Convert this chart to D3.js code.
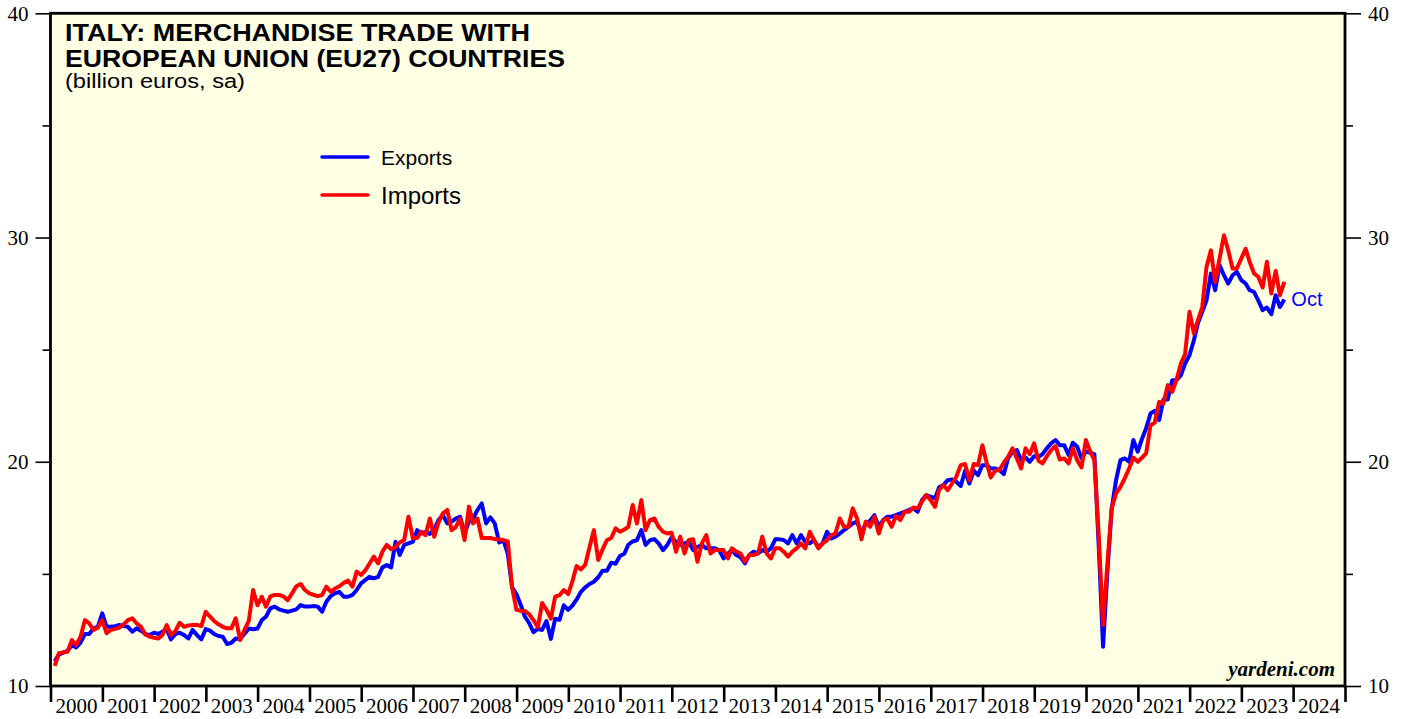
<!DOCTYPE html>
<html>
<head>
<meta charset="utf-8">
<script src="https://cdn.jsdelivr.net/npm/d3@7"></script>
<style>
  body { margin: 0; background: #ffffff; }
  svg { display: block; }
</style>
</head>
<body>
<svg width="1405" height="719"></svg>
<script>
const BLUE = "#0000FF";
const RED = "#FF0000";
const PAPER = "#FFFFE3";

// Monthly data, Jan 2000 .. Oct 2023 (billion euros, sa)
const startYear = 2000;
const exportsEU = [
  11.1, 11.4, 11.49, 11.57, 11.83, 11.72, 11.93, 12.32, 12.32, 12.57, 12.64, 13.24,
  12.64, 12.64, 12.67, 12.72, 12.67, 12.64, 12.42, 12.57, 12.47, 12.32, 12.27, 12.38,
  12.32, 12.42, 12.53, 12.08, 12.32, 12.38, 12.27, 12.12, 12.5, 12.27, 12.08, 12.54,
  12.47, 12.32, 12.23, 12.2, 11.87, 11.93, 12.12, 12.11, 12.32, 12.56, 12.53, 12.56,
  12.94, 13.09, 13.46, 13.54, 13.42, 13.36, 13.31, 13.36, 13.42, 13.61, 13.54, 13.54,
  13.57, 13.54, 13.31, 13.76, 14.01, 14.13, 14.2, 13.98, 13.98, 14.06, 14.28, 14.58,
  14.73, 14.87, 14.8, 14.87, 15.29, 15.39, 15.29, 16.43, 15.84, 16.29, 16.36, 16.43,
  16.95, 16.8, 16.88, 16.78, 16.98, 17.4, 17.62, 17.25, 17.33, 17.47, 17.55, 16.8,
  17.33, 17.47, 17.85, 18.14, 17.25, 17.52, 17.25, 16.4, 16.5, 15.9, 14.4, 14.1,
  13.6, 13.1, 12.8, 12.4, 12.55, 12.5, 12.9, 12.1, 13.0, 12.95, 13.6, 13.4,
  13.6, 13.85, 14.2, 14.4, 14.55, 14.65, 14.85, 15.14, 15.14, 15.5, 15.45, 15.8,
  15.9, 16.3, 16.45, 16.5, 16.95, 16.29, 16.5, 16.55, 16.36, 16.06, 16.29, 16.63,
  16.43, 16.29, 16.36, 16.43, 16.06, 16.2, 16.29, 16.14, 16.14, 16.14, 16.06, 15.69,
  15.91, 16.06, 15.84, 15.74, 15.47, 15.84, 15.99, 15.91, 16.06, 15.99, 16.14, 16.54,
  16.54, 16.51, 16.36, 16.73, 16.36, 16.73, 16.43, 16.36, 16.51, 16.2, 16.36, 16.88,
  16.58, 16.66, 16.8, 16.95, 17.1, 17.25, 17.33, 16.8, 17.25, 17.37, 17.62, 17.1,
  17.4, 17.55, 17.55, 17.62, 17.7, 17.77, 17.85, 17.92, 17.77, 18.29, 18.51, 18.44,
  18.37, 18.86, 18.96, 19.18, 19.21, 19.11, 18.92, 19.6, 19.03, 19.6, 19.4, 19.85,
  19.85, 19.7, 19.7, 19.63, 19.45, 20.15, 20.45, 20.52, 20.07, 20.19, 20.0, 20.25,
  20.22, 20.34, 20.6, 20.82, 20.97, 20.74, 20.74, 20.3, 20.85, 20.67, 20.15, 20.45,
  20.4, 20.34, 16.2, 11.75, 15.1, 17.9, 19.18, 20.07, 20.15, 20.0, 20.97, 20.45,
  21.04, 21.49, 22.15, 22.27, 21.86, 22.78, 22.78, 23.64, 23.64, 23.85, 24.38, 24.75,
  25.42, 26.17, 26.69, 27.2, 28.4, 27.65, 28.77, 28.32, 27.95, 28.32, 28.47, 28.1,
  27.95, 27.65, 27.58, 27.2, 26.76, 26.88, 26.58, 27.43, 26.9, 27.24
];
const importsEU = [
  10.9, 11.46, 11.5, 11.53, 12.05, 11.83, 12.2, 12.94, 12.79, 12.5, 12.6, 12.94,
  12.35, 12.5, 12.55, 12.6, 12.75, 12.94, 13.02, 12.79, 12.64, 12.3, 12.2, 12.15,
  12.12, 12.27, 12.72, 12.27, 12.45, 12.82, 12.64, 12.7, 12.72, 12.72, 12.67, 13.31,
  13.09, 12.9, 12.75, 12.64, 12.57, 12.57, 13.02, 12.05, 12.5, 12.9, 14.28, 13.6,
  13.98, 13.54, 14.0, 14.06, 14.06, 14.0, 13.83, 14.13, 14.45, 14.55, 14.28, 14.13,
  14.06, 14.01, 14.06, 14.43, 14.2, 14.35, 14.45, 14.6, 14.7, 14.43, 15.1, 14.95,
  15.17, 15.45, 15.77, 15.47, 16.0, 16.29, 16.1, 16.2, 16.4, 16.51, 17.55, 16.6,
  16.6, 16.88, 16.73, 17.47, 16.66, 17.3, 17.7, 17.85, 16.95, 17.1, 17.47, 16.51,
  18.0, 17.25, 17.47, 16.6, 16.6, 16.6, 16.55, 16.55, 16.5, 16.45, 14.4, 13.4,
  13.35, 13.35, 13.2, 12.94, 12.62, 13.7, 13.4, 13.0, 13.98, 14.05, 14.28, 14.1,
  14.7, 15.35, 15.2, 15.4, 16.2, 16.95, 15.62, 16.1, 16.5, 16.6, 17.03, 16.88,
  16.98, 17.1, 18.07, 17.25, 18.29, 16.95, 17.4, 17.47, 17.1, 16.88, 16.8, 16.83,
  15.99, 16.66, 15.91, 16.51, 16.54, 15.54, 16.36, 16.73, 15.91, 16.06, 16.06, 16.06,
  15.69, 16.14, 15.99, 15.91, 15.54, 15.84, 15.84, 15.91, 16.66, 15.91, 15.69, 16.14,
  16.14, 15.99, 15.77, 15.99, 16.14, 16.36, 16.14, 16.88, 16.5, 16.14, 16.36, 16.5,
  16.73, 16.8, 17.47, 17.1, 17.1, 17.92, 17.47, 16.54, 17.33, 17.1, 17.55, 16.8,
  17.4, 17.47, 17.1, 17.58, 17.4, 17.77, 17.77, 17.96, 17.92, 18.22, 18.51, 18.29,
  17.99, 18.74, 18.96, 18.73, 19.03, 19.33, 19.85, 19.9, 19.18, 19.9, 19.85, 20.74,
  19.93, 19.3, 19.6, 19.63, 19.96, 20.22, 20.6, 20.15, 19.7, 20.6, 20.34, 20.82,
  20.04, 19.93, 20.25, 20.52, 20.7, 20.1, 20.15, 19.93, 20.6, 20.07, 19.75, 20.97,
  20.45, 20.07, 16.66, 12.72, 15.47, 17.92, 18.59, 18.88, 19.26, 19.7, 20.19, 20.0,
  20.19, 20.37, 21.63, 21.75, 22.67, 22.6, 23.42, 23.12, 23.64, 24.38, 24.8, 26.69,
  25.72, 26.31, 26.9, 28.69, 29.43, 28.02, 29.06, 30.1, 29.43, 28.62, 28.62, 29.06,
  29.5, 28.92, 28.4, 28.25, 27.77, 28.92, 27.5, 28.51, 27.43, 28.02
];

const yMajor = [10, 20, 30, 40];
const yMinor = [15, 25, 35];
const yearLabels = d3.range(2000, 2025);
const seriesNames = ["Exports", "Imports"];
const lastLabel = "Oct";

// Plot frame
m = { top: 13.3, right: 60, bottom: 33, left: 50.5 };
w = 1345 - m.left;
h = 686 - m.top;

var svg = d3.select("svg");

var x = d3.scaleTime()
    .domain([new Date(2000, 0, 1), new Date(2025, 0, 1)])
    .range([m.left, m.left + w]);

var y = d3.scaleLinear()
    .domain([10, 40])
    .range([m.top + h, m.top]);

// month index -> end of that month
function monthDate(i) {
    return new Date(startYear, i + 1, 0);
}

/*=========================================================================
Background
=========================================================================*/
svg.append("rect")
    .attr("x", m.left)
    .attr("y", m.top)
    .attr("width", w)
    .attr("height", h)
    .attr("fill", PAPER);

svg.append("clipPath")
    .attr("id", "plotclip")
    .append("rect")
    .attr("x", m.left)
    .attr("y", m.top)
    .attr("width", w)
    .attr("height", h);

/*=========================================================================
Lines
=========================================================================*/
var line = d3.line()
    .x(function (d, i) { return x(monthDate(i)); })
    .y(function (d) { return y(d); });

var lines = svg.append("g").attr("clip-path", "url(#plotclip)");

lines.append("path")
    .datum(exportsEU)
    .attr("fill", "none")
    .attr("stroke", BLUE)
    .attr("stroke-width", 4)
    .attr("stroke-linejoin", "round")
    .attr("d", line);

lines.append("path")
    .datum(importsEU)
    .attr("fill", "none")
    .attr("stroke", RED)
    .attr("stroke-width", 4)
    .attr("stroke-linejoin", "round")
    .attr("d", line);

// end label
var lastI = exportsEU.length - 1;
svg.append("text")
    .attr("x", x(monthDate(lastI)) + 7)
    .attr("y", y(exportsEU[lastI]) + 7)
    .attr("fill", BLUE)
    .style("font", "20px 'Liberation Sans', Arial, sans-serif")
    .text(lastLabel);

/*=========================================================================
Axes
=========================================================================*/
var serif = "'Liberation Serif', 'Times New Roman', serif";

// left
svg.append("g")
    .attr("transform", `translate(${m.left - 1}, 0)`)
    .call(d3.axisLeft(y).tickValues(yMajor).tickSize(14).tickPadding(7).tickFormat(d3.format("d")))
    .call(g => g.select(".domain").remove())
    .call(g => g.selectAll("line").attr("stroke-width", 1.6))
    .call(g => g.selectAll("text").style("font", `21px ${serif}`).attr("fill", "#000"));

svg.append("g")
    .attr("transform", `translate(${m.left - 1}, 0)`)
    .call(d3.axisLeft(y).tickValues(yMinor).tickSize(7).tickFormat(""))
    .call(g => g.select(".domain").remove())
    .call(g => g.selectAll("line").attr("stroke-width", 1.6));

// right
svg.append("g")
    .attr("transform", `translate(${m.left + w + 1}, 0)`)
    .call(d3.axisRight(y).tickValues(yMajor).tickSize(15).tickPadding(7).tickFormat(d3.format("d")))
    .call(g => g.select(".domain").remove())
    .call(g => g.selectAll("line").attr("stroke-width", 1.6))
    .call(g => g.selectAll("text").style("font", `21px ${serif}`).attr("fill", "#000"));

svg.append("g")
    .attr("transform", `translate(${m.left + w + 1}, 0)`)
    .call(d3.axisRight(y).tickValues(yMinor).tickSize(7).tickFormat(""))
    .call(g => g.select(".domain").remove())
    .call(g => g.selectAll("line").attr("stroke-width", 1.6));

// bottom: ticks at year boundaries, labels mid-year
var bottom = svg.append("g")
    .attr("transform", `translate(0, ${m.top + h})`);

bottom.call(d3.axisBottom(x)
        .tickValues(yearLabels.map(yr => new Date(yr, 0, 1)).concat([new Date(2025, 0, 1)]))
        .tickSize(16)
        .tickFormat(""))
    .call(g => g.select(".domain").remove())
    .call(g => g.selectAll("line").attr("stroke-width", 2.6));

bottom.selectAll(".year")
    .data(yearLabels)
    .enter().append("text")
    .attr("class", "year")
    .attr("x", d => x(new Date(d, 6, 2)))
    .attr("y", 27)
    .attr("text-anchor", "middle")
    .attr("fill", "#000")
    .style("font", `21px ${serif}`)
    .text(d => d);

// frame
svg.append("rect")
    .attr("x", m.left)
    .attr("y", m.top)
    .attr("width", w)
    .attr("height", h)
    .attr("fill", "none")
    .attr("stroke", "#000")
    .attr("stroke-width", 2.8);

/*=========================================================================
Titles, legend, credit
=========================================================================*/
var sans = "'Liberation Sans', Arial, Helvetica, sans-serif";

svg.append("text")
    .attr("x", 65).attr("y", 41)
    .attr("textLength", 465).attr("lengthAdjust", "spacingAndGlyphs")
    .style("font", `bold 24px ${sans}`)
    .text("ITALY: MERCHANDISE TRADE WITH");

svg.append("text")
    .attr("x", 65).attr("y", 67)
    .attr("textLength", 500).attr("lengthAdjust", "spacingAndGlyphs")
    .style("font", `bold 24px ${sans}`)
    .text("EUROPEAN UNION (EU27) COUNTRIES");

svg.append("text")
    .attr("x", 65).attr("y", 88)
    .attr("textLength", 180).attr("lengthAdjust", "spacingAndGlyphs")
    .style("font", `20px ${sans}`)
    .text("(billion euros, sa)");

var legend = svg.append("g");
var legendRows = [
    { name: seriesNames[0], color: BLUE, y: 157, ty: 165, size: 21 },
    { name: seriesNames[1], color: RED, y: 195, ty: 204, size: 24 }
];
legendRows.forEach(function (r) {
    legend.append("line")
        .attr("x1", 322).attr("x2", 368)
        .attr("y1", r.y).attr("y2", r.y)
        .attr("stroke", r.color)
        .attr("stroke-width", 3.5)
        .attr("stroke-linecap", "round");
    legend.append("text")
        .attr("x", 381).attr("y", r.ty)
        .style("font", `${r.size}px ${sans}`)
        .text(r.name);
});

svg.append("text")
    .attr("x", 1335).attr("y", 676)
    .attr("text-anchor", "end")
    .style("font", `italic bold 21px ${serif}`)
    .text("yardeni.com");
</script>
</body>
</html>
